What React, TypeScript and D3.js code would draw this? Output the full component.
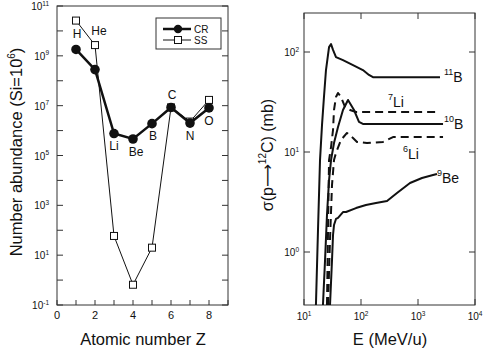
import * as d3 from 'd3'

// left panel: abundances
const elements = ['H', 'He', 'Li', 'Be', 'B', 'C', 'N', 'O']
const atomicZ = [1, 2, 3, 4, 5, 6, 7, 8]
const crAbundance = [1.8e9, 2.8e8, 7.6e5, 4.6e5, 1.9e6, 8.5e6, 2.0e6, 8.1e6]
const ssAbundance = [2.6e10, 2.7e9, 59, 0.65, 20, 8.5e6, 2.3e6, 1.7e7]
const leftExps = [-1, 0, 1, 2, 3, 4, 5, 6, 7, 8, 9, 10, 11]
const leftLabelExps = [-1, 1, 3, 5, 7, 9, 11]
const zTicks = [0, 1, 2, 3, 4, 5, 6, 7, 8, 9]
const zLabels = [0, 2, 4, 6, 8]

// right panel: cross sections [E (MeV/u), sigma (mb)]
const b11: [number, number][] = [[16.2, 0.295], [17.6, 1.66], [19.1, 8.3], [20.7, 18.6], [22.4, 35.5], [24.3, 66], [27.5, 112], [29.8, 120], [32.3, 105], [36.4, 89], [48.3, 83], [72.4, 74], [108, 66], [138, 59], [162, 56], [2430, 56]]
const b10: [number, number][] = [[21.5, 0.295], [23.4, 0.83], [25.3, 2.34], [27.5, 5.2], [29.8, 8.3], [33.6, 12.3], [39.5, 17.8], [48.3, 26.3], [59.2, 33.1], [75.4, 26.3], [92.2, 20], [108, 19.1], [2750, 19.1]]
const li7: [number, number][] = [[25.3, 0.295], [26.4, 1.66], [27.5, 8.3], [29.8, 11.2], [32.3, 16.6], [33.6, 26.3], [36.4, 35.5], [39.5, 38.9], [44.6, 35.5], [52.4, 28.2], [64.1, 26.3], [81.7, 25.1], [2154, 25.1]]
const li6: [number, number][] = [[26.4, 0.295], [28.6, 1.32], [31.0, 4.68], [33.6, 8.3], [36.4, 9.8], [44.6, 13.2], [56.8, 15.5], [72.4, 13.8], [85.1, 12.6], [127, 12.3], [243, 12.6], [364, 14.1], [2750, 14.1]]
const be9: [number, number][] = [[28.6, 0.295], [31.0, 0.83], [32.3, 1.48], [33.6, 1.86], [36.4, 2.14], [39.5, 2.19], [48.3, 2.51], [54.6, 2.51], [81.7, 2.75], [122, 2.95], [183, 3.09], [286, 3.24], [428, 3.89], [724, 4.9], [1175, 5.5], [1833, 5.89], [2154, 6.03]]
const eExps = [1, 2, 3, 4]
const sExps = [0, 1, 2]

const FONT = 'Liberation Sans, Arial, Helvetica, sans-serif'
const INK = '#111'

// label offsets (px) relative to the CR point
const elemOffsets = [[1, -11], [4, -35], [0, 16], [3, 17], [1, 16], [1, -8], [0, 17], [0, 17]]

const Pow = ({ x, y, exp, anchor, size = 10 }: any) => (
  <text x={x} y={y} textAnchor={anchor} fontSize={size} fill={INK} fontFamily={FONT}>
    10<tspan fontSize={size * 0.65} dy={-size * 0.45}>{exp}</tspan>
  </text>
)

const LeftPanel = () => {
  const L = 57, R = 228, T = 6, B = 305
  const x = d3.scaleLinear().domain([0, 9]).range([L, R])
  const y = d3.scaleLog().domain([1e-1, 1e11]).range([B, T])
  const line = d3.line<[number, number]>().x(d => x(d[0])).y(d => y(d[1]))
  const cr = atomicZ.map((z, i) => [z, crAbundance[i]] as [number, number])
  const ss = atomicZ.map((z, i) => [z, ssAbundance[i]] as [number, number])
  return (
    <g>
      <clipPath id="clipL"><rect x={L} y={T} width={R - L} height={B - T} /></clipPath>
      <rect x={L} y={T} width={R - L} height={B - T} fill="none" stroke="#333" strokeWidth={1} />
      {leftExps.map(e => (
        <g key={e}>
          <line x1={L} x2={L + 6} y1={y(10 ** e)} y2={y(10 ** e)} stroke="#333" />
          <line x1={R - 6} x2={R} y1={y(10 ** e)} y2={y(10 ** e)} stroke="#333" />
        </g>
      ))}
      {leftLabelExps.map(e => <Pow key={e} x={49} y={y(10 ** e) + 4} exp={e} anchor="end" />)}
      {zTicks.map(t => <line key={t} x1={x(t)} x2={x(t)} y1={B} y2={B - 5} stroke="#333" />)}
      {zLabels.map(t => (
        <text key={t} x={x(t)} y={319} textAnchor="middle" fontSize={11} fill={INK} fontFamily={FONT}>{t}</text>
      ))}
      <g clipPath="url(#clipL)">
        <path d={line(ss) || ''} fill="none" stroke={INK} strokeWidth={1} />
        {ss.map((d, i) => (
          <rect key={i} x={x(d[0]) - 3.5} y={y(d[1]) - 3.5} width={7} height={7} fill="white" stroke={INK} strokeWidth={1} />
        ))}
        <path d={line(cr) || ''} fill="none" stroke={INK} strokeWidth={2.5} />
        {cr.map((d, i) => <circle key={i} cx={x(d[0])} cy={y(d[1])} r={4.8} fill={INK} />)}
      </g>
      {elements.map((el, i) => (
        <text key={el} x={x(atomicZ[i]) + elemOffsets[i][0]} y={y(crAbundance[i]) + elemOffsets[i][1]}
          textAnchor="middle" fontSize={12} fill={INK} fontFamily={FONT}>{el}</text>
      ))}
      {/* legend */}
      <rect x={156} y={18} width={65} height={31} fill="white" stroke="#333" />
      <line x1={163} x2={191} y1={29} y2={29} stroke={INK} strokeWidth={2.5} />
      <circle cx={178} cy={29} r={4.2} fill={INK} />
      <text x={194} y={33} fontSize={10} fill={INK} fontFamily={FONT}>CR</text>
      <line x1={163} x2={191} y1={40} y2={40} stroke={INK} strokeWidth={1} />
      <rect x={174.5} y={36.5} width={7} height={7} fill="white" stroke={INK} />
      <text x={194} y={44} fontSize={10} fill={INK} fontFamily={FONT}>SS</text>
      <text x={143} y={345} textAnchor="middle" fontSize={16.5} fill={INK} fontFamily={FONT}>Atomic number Z</text>
      <text transform="translate(22,152) rotate(-90)" textAnchor="middle" fontSize={16.5} fill={INK} fontFamily={FONT}>
        Number abundance (Si=10<tspan fontSize={10} dy={-7}>6</tspan><tspan dy={7}>)</tspan>
      </text>
    </g>
  )
}

const curves = [
  { name: 'B', iso: '11', pts: b11, dash: null, off: [4, 5] },
  { name: 'B', iso: '10', pts: b10, dash: null, off: [1, 5] },
  { name: 'Li', iso: '7', pts: li7, dash: '8,5', off: [-49, -5] },
  { name: 'Li', iso: '6', pts: li6, dash: '8,5', off: [-40, 22] },
  { name: 'Be', iso: '9', pts: be9, dash: null, off: [0, 9] },
]

const RightPanel = () => {
  const L = 304, R = 475, T = 13, B = 305
  const x = d3.scaleLog().domain([10, 1e4]).range([L, R])
  const y = d3.scaleLog().domain([1, 100]).range([252, 52])
  const line = d3.line<[number, number]>().x(d => x(d[0])).y(d => y(d[1]))
  return (
    <g>
      <clipPath id="clipR"><rect x={L} y={T} width={R - L} height={B - T} /></clipPath>
      <rect x={L} y={T} width={R - L} height={B - T} fill="none" stroke="#333" strokeWidth={1} />
      {eExps.map(e => (
        <g key={e}>
          <line x1={x(10 ** e)} x2={x(10 ** e)} y1={B} y2={B - 6} stroke="#333" />
          <line x1={x(10 ** e)} x2={x(10 ** e)} y1={T} y2={T + 6} stroke="#333" />
          <Pow x={x(10 ** e)} y={320} exp={e} anchor="middle" />
        </g>
      ))}
      {sExps.map(e => (
        <g key={e}>
          <line x1={L} x2={L + 6} y1={y(10 ** e)} y2={y(10 ** e)} stroke="#333" />
          <line x1={R - 6} x2={R} y1={y(10 ** e)} y2={y(10 ** e)} stroke="#333" />
          <Pow x={299} y={y(10 ** e) + 4} exp={e} anchor="end" />
        </g>
      ))}
      <g clipPath="url(#clipR)">
        {curves.map((c, i) => (
          <path key={i} d={line(c.pts) || ''} fill="none" stroke={INK} strokeWidth={2}
            strokeDasharray={c.dash || undefined} strokeLinejoin="round" />
        ))}
      </g>
      {curves.map((c, i) => {
        const last = c.pts[c.pts.length - 1]
        return (
          <text key={i} x={x(last[0]) + c.off[0]} y={y(last[1]) + c.off[1]} fontSize={14} fill={INK} fontFamily={FONT}>
            <tspan fontSize={9} dy={-7}>{c.iso}</tspan><tspan dy={7}>{c.name}</tspan>
          </text>
        )
      })}
      <text x={390} y={345} textAnchor="middle" fontSize={16.5} fill={INK} fontFamily={FONT}>E (MeV/u)</text>
      <text transform="translate(273,155) rotate(-90)" textAnchor="middle" fontSize={16} fill={INK} fontFamily={FONT}>
        σ(p<tspan fontFamily="DejaVu Sans">⟶</tspan><tspan fontSize={10} dy={-7}>12</tspan><tspan dy={7}>C)  (mb)</tspan>
      </text>
    </g>
  )
}

export default function App() {
  return (
    <svg width={483} height={353} style={{ position: 'absolute', left: 0, top: 0, background: 'white' }}>
      <LeftPanel />
      <RightPanel />
    </svg>
  )
}
